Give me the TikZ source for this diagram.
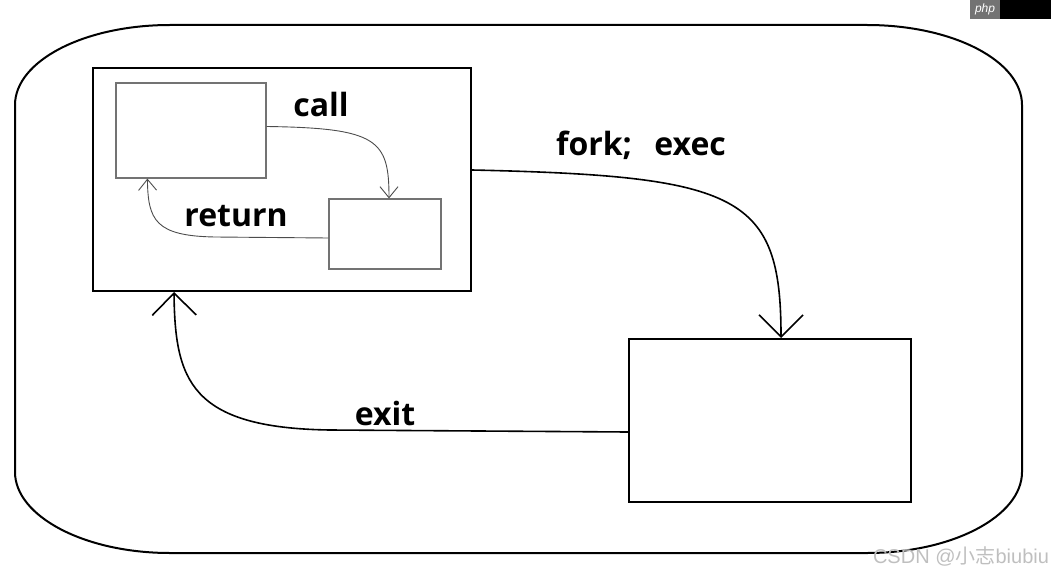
\documentclass[tikz,border=0pt]{standalone}
\usepackage{fontspec}
\setmainfont{Open Sans}
\newfontfamily\wmfont{Liberation Sans}
\newfontfamily\cjk{Noto Sans CJK SC}
\usetikzlibrary{positioning}
\usetikzlibrary{arrows.meta}
\usetikzlibrary{calc}

\begin{document}
\begin{tikzpicture}[x=1pt, y=-1pt,
    box/.style={rectangle, draw=black, line width=2pt, inner sep=0pt},
    subbox/.style={rectangle, draw=black!55, line width=1.2pt, inner sep=0pt},
    lbl/.style={inner sep=0pt, font=\fontsize{32}{34}\selectfont\bfseries},
    bigarrow/.style={line width=1.6pt, -{Straight Barb[length=22pt, width=44pt]}},
    smallarrow/.style={draw=black!70, line width=0.9pt, -{Straight Barb[length=11pt, width=18pt]}}
]
    \useasboundingbox (0,0) rectangle (1051,572);

    % Outer boundary
    \draw[line width=2pt] (15,105) -- (15,472) .. controls (15,516) and (84,553) .. (170,553)
        -- (867,553) .. controls (953,553) and (1022,516) .. (1022,472)
        -- (1022,105) .. controls (1022,61) and (953,25) .. (867,25)
        -- (170,25) .. controls (84,25) and (15,61) .. cycle;

    % Program with two routines
    \node[box] (prog) at (282,179.5) [minimum width=378pt, minimum height=223pt] {};
    \node[subbox] (caller) at (191,130.5) [minimum width=150pt, minimum height=95pt] {};
    \node[subbox] (callee) at (385,234) [minimum width=112pt, minimum height=70pt] {};

    % Second program
    \node[box] (child) at (770,420.5) [minimum width=282pt, minimum height=163pt] {};

    % Call and return
    \draw[smallarrow] ($(caller.east)+(0,-4)$) .. controls (378,128) and (389,140) .. ($(callee.north)+(4,0)$);
    \draw[smallarrow] ($(callee.west)+(0,4)$) -- (215,237) .. controls (155,236) and (148,220) .. ($(caller.south west)+(32,0)$);
    \node[lbl] (call) at (321,105) {call};
    \node[lbl] (ret) at (236,216) {return};

    % Fork and exit
    \draw[bigarrow] ($(prog.east)+(0,-9.5)$) .. controls (740,176) and (781,195) .. ($(child.north)+(11,0)$);
    \draw[bigarrow] ($(child.west)+(0,11.5)$) -- (330,430) .. controls (190,428) and (175,380) .. ($(prog.south west)+(82,0)$);
    \node[lbl] (fork) at (641,145) {fork;\hspace{0.7em}exec};
    \node[lbl] (exit) at (385,413) {exit};

    % Watermarks
    \node[fill=black, inner sep=0pt, minimum width=51pt, minimum height=19pt] (logo) at (1025.5,9.5) {};
    \node[fill=black!55, inner sep=0pt, minimum width=30pt, minimum height=19pt, text=white,
        font=\wmfont\fontsize{12}{12}\selectfont\itshape] (php) at (985,9.5) {php};
    \node[text=black!25, inner sep=0pt, font=\wmfont\fontsize{20}{22}\selectfont] (mark) at (961,556) {CSDN @{\cjk 小志}biubiu};
\end{tikzpicture}
\end{document}
